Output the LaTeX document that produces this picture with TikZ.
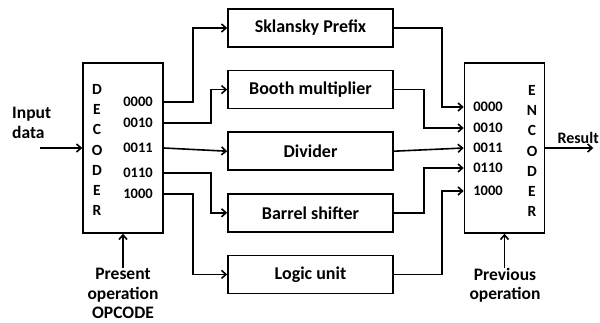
\documentclass[tikz,border=0pt]{standalone}
\usepackage{fontspec}
\setmainfont{Carlito}
\usetikzlibrary{positioning,calc,arrows.meta}

\tikzset{
  unit/.style={draw, line width=1.6pt, minimum width=165pt, minimum height=38pt,
    inner sep=0pt, font=\fontsize{18}{20}\selectfont\bfseries},
  coder/.style={draw, line width=1.6pt, minimum width=80pt, minimum height=170pt, inner sep=0pt},
  vlbl/.style={align=center, inner sep=0pt, font=\fontsize{15.5}{20.2}\selectfont\bfseries},
  code/.style={inner sep=0pt, font=\fontsize{14.5}{16}\selectfont\bfseries},
  txt/.style={align=center, inner sep=0pt, font=\fontsize{17.5}{19.5}\selectfont\bfseries},
  conn/.style={line width=1.6pt, -{Straight Barb[length=4.5pt,width=8pt]}}
}

\begin{document}
\begin{tikzpicture}[x=1pt,y=-1pt]
    \useasboundingbox (0,0) rectangle (600,322);

    % decoder
    \node[coder] (dec) at (123,148) {};
    \node[vlbl] (declbl) at (97,150) {D\\E\\C\\O\\D\\E\\R};
    \foreach \i/\y/\c in {1/102/0000,2/123/0010,3/148/0011,4/173/0110,5/194/1000}
        \node[code] (d\i) at (138,\y) {\c};

    % functional units
    \node[unit] (skl) at (310.5,28) {Sklansky Prefix};
    \node[unit, below=22pt of skl] (booth) {Booth multiplier};
    \node[unit, below=22pt of booth] (div) {Divider};
    \node[unit, below=22pt of div] (bar) {Barrel shifter};
    \node[unit, below=22pt of bar] (logic) {Logic unit};

    % encoder
    \node[coder] (enc) at (504.5,148) {};
    \node[vlbl] (enclbl) at (532,151) {E\\N\\C\\O\\D\\E\\R};
    \foreach \i/\y/\c in {1/107/0000,2/128/0010,3/148/0011,4/168/0110,5/191/1000}
        \node[code] (e\i) at (488,\y) {\c};

    % decoder to units
    \draw[conn] (d1 -| dec.east) -- ++(29,0) |- (skl.west);
    \draw[conn] (d2 -| dec.east) -- ++(47,0) |- (booth.west);
    \draw[conn] (d3 -| dec.east) -- (div.west);
    \draw[conn] (d4 -| dec.east) -- ++(47,0) |- (bar.west);
    \draw[conn] (d5 -| dec.east) -- ++(29,0) |- (logic.west);

    % units to encoder
    \draw[conn] (skl.east) -- ++(48,0) |- (e1 -| enc.west);
    \draw[conn] (booth.east) -- ++(30,0) |- (e2 -| enc.west);
    \draw[conn] (div.east) -- (e3 -| enc.west);
    \draw[conn] (bar.east) -- ++(30,0) |- (e4 -| enc.west);
    \draw[conn] (logic.east) -- ++(48,0) |- (e5 -| enc.west);

    % inputs and output
    \node[txt, align=left, anchor=west] (indata) at (12,123) {Input\\data};
    \coordinate[left=42pt of dec.west] (inp);
    \draw[conn] (inp) -- (dec.west);

    \node[txt, anchor=north] (opc) at (123,268) {Present\\operation\\OPCODE};
    \draw[conn] (opc.north) -- (dec.south);

    \node[txt, anchor=north] (prev) at (505,268) {Previous\\operation};
    \draw[conn] (prev.north -| enc.south) -- (enc.south);

    \coordinate[right=48pt of enc.east] (out);
    \draw[conn] (enc.east) -- (out);
    \node[txt, anchor=east, font=\fontsize{16}{18}\selectfont\bfseries] (res) at (599,138) {Result};
\end{tikzpicture}
\end{document}
